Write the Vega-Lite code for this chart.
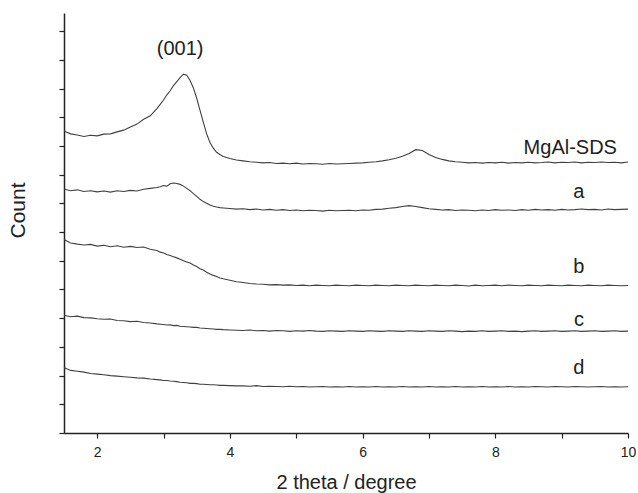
{
  "$schema": "https://vega.github.io/schema/vega-lite/v6.json",
  "width": 564,
  "height": 420,
  "autosize": "none",
  "padding": {"left": 64, "top": 13, "right": 10, "bottom": 60},
  "background": "white",
  "config": {"view": {"stroke": null}, "font": "Liberation Sans"},
  "datasets": {
    "xrd": [
      {"x":1.5,"m":10.52,"a":8.50,"b":6.74,"c":4.10,"d":2.28},
      {"x":1.6,"m":10.42,"a":8.44,"b":6.62,"c":4.05,"d":2.18},
      {"x":1.7,"m":10.38,"a":8.47,"b":6.58,"c":4.07,"d":2.15},
      {"x":1.8,"m":10.33,"a":8.41,"b":6.55,"c":4.02,"d":2.12},
      {"x":1.9,"m":10.37,"a":8.44,"b":6.57,"c":4.01,"d":2.07},
      {"x":2.0,"m":10.35,"a":8.40,"b":6.51,"c":3.98,"d":2.05},
      {"x":2.1,"m":10.41,"a":8.43,"b":6.54,"c":3.96,"d":2.03},
      {"x":2.2,"m":10.42,"a":8.39,"b":6.49,"c":3.97,"d":2.00},
      {"x":2.3,"m":10.49,"a":8.44,"b":6.52,"c":3.92,"d":1.98},
      {"x":2.4,"m":10.55,"a":8.41,"b":6.47,"c":3.91,"d":1.96},
      {"x":2.5,"m":10.66,"a":8.45,"b":6.50,"c":3.88,"d":1.94},
      {"x":2.6,"m":10.76,"a":8.43,"b":6.46,"c":3.89,"d":1.92},
      {"x":2.7,"m":10.93,"a":8.49,"b":6.48,"c":3.85,"d":1.91},
      {"x":2.8,"m":11.05,"a":8.52,"b":6.40,"c":3.83,"d":1.88},
      {"x":2.9,"m":11.30,"a":8.55,"b":6.36,"c":3.80,"d":1.86},
      {"x":2.95,"m":11.45,"a":8.58,"b":6.30,"c":3.79,"d":1.85},
      {"x":3.0,"m":11.60,"a":8.62,"b":6.27,"c":3.78,"d":1.83},
      {"x":3.05,"m":11.78,"a":8.60,"b":6.22,"c":3.76,"d":1.83},
      {"x":3.1,"m":11.92,"a":8.68,"b":6.18,"c":3.77,"d":1.81},
      {"x":3.15,"m":12.10,"a":8.71,"b":6.14,"c":3.74,"d":1.80},
      {"x":3.2,"m":12.24,"a":8.69,"b":6.10,"c":3.75,"d":1.79},
      {"x":3.25,"m":12.38,"a":8.66,"b":6.05,"c":3.72,"d":1.77},
      {"x":3.3,"m":12.50,"a":8.60,"b":6.00,"c":3.71,"d":1.76},
      {"x":3.35,"m":12.46,"a":8.52,"b":5.96,"c":3.70,"d":1.75},
      {"x":3.4,"m":12.28,"a":8.44,"b":5.92,"c":3.69,"d":1.73},
      {"x":3.45,"m":12.02,"a":8.34,"b":5.85,"c":3.68,"d":1.73},
      {"x":3.5,"m":11.66,"a":8.24,"b":5.80,"c":3.68,"d":1.72},
      {"x":3.55,"m":11.24,"a":8.14,"b":5.72,"c":3.66,"d":1.70},
      {"x":3.6,"m":10.82,"a":8.06,"b":5.68,"c":3.65,"d":1.70},
      {"x":3.65,"m":10.42,"a":8.00,"b":5.60,"c":3.64,"d":1.69},
      {"x":3.7,"m":10.12,"a":7.94,"b":5.54,"c":3.63,"d":1.68},
      {"x":3.75,"m":9.92,"a":7.90,"b":5.49,"c":3.62,"d":1.68},
      {"x":3.8,"m":9.78,"a":7.87,"b":5.45,"c":3.61,"d":1.67},
      {"x":3.85,"m":9.70,"a":7.85,"b":5.40,"c":3.61,"d":1.66},
      {"x":3.9,"m":9.63,"a":7.84,"b":5.37,"c":3.60,"d":1.66},
      {"x":4.0,"m":9.56,"a":7.82,"b":5.32,"c":3.59,"d":1.65},
      {"x":4.1,"m":9.51,"a":7.80,"b":5.27,"c":3.58,"d":1.64},
      {"x":4.2,"m":9.48,"a":7.81,"b":5.24,"c":3.57,"d":1.64},
      {"x":4.3,"m":9.45,"a":7.78,"b":5.21,"c":3.59,"d":1.63},
      {"x":4.4,"m":9.43,"a":7.80,"b":5.19,"c":3.56,"d":1.65},
      {"x":4.5,"m":9.41,"a":7.77,"b":5.18,"c":3.57,"d":1.62},
      {"x":4.6,"m":9.42,"a":7.79,"b":5.16,"c":3.55,"d":1.63},
      {"x":4.7,"m":9.39,"a":7.76,"b":5.17,"c":3.57,"d":1.62},
      {"x":4.8,"m":9.40,"a":7.78,"b":5.15,"c":3.56,"d":1.61},
      {"x":4.9,"m":9.38,"a":7.75,"b":5.16,"c":3.54,"d":1.63},
      {"x":5.0,"m":9.40,"a":7.77,"b":5.14,"c":3.56,"d":1.61},
      {"x":5.1,"m":9.37,"a":7.74,"b":5.15,"c":3.55,"d":1.62},
      {"x":5.2,"m":9.39,"a":7.76,"b":5.13,"c":3.57,"d":1.60},
      {"x":5.3,"m":9.38,"a":7.75,"b":5.15,"c":3.55,"d":1.61},
      {"x":5.4,"m":9.36,"a":7.73,"b":5.14,"c":3.54,"d":1.62},
      {"x":5.5,"m":9.39,"a":7.76,"b":5.13,"c":3.56,"d":1.60},
      {"x":5.6,"m":9.37,"a":7.74,"b":5.15,"c":3.55,"d":1.61},
      {"x":5.7,"m":9.38,"a":7.75,"b":5.14,"c":3.54,"d":1.60},
      {"x":5.8,"m":9.39,"a":7.76,"b":5.13,"c":3.56,"d":1.62},
      {"x":5.9,"m":9.40,"a":7.74,"b":5.15,"c":3.55,"d":1.60},
      {"x":6.0,"m":9.41,"a":7.77,"b":5.14,"c":3.54,"d":1.61},
      {"x":6.1,"m":9.43,"a":7.76,"b":5.13,"c":3.56,"d":1.60},
      {"x":6.2,"m":9.45,"a":7.79,"b":5.15,"c":3.55,"d":1.62},
      {"x":6.3,"m":9.48,"a":7.80,"b":5.14,"c":3.54,"d":1.60},
      {"x":6.4,"m":9.52,"a":7.83,"b":5.13,"c":3.56,"d":1.61},
      {"x":6.5,"m":9.57,"a":7.85,"b":5.15,"c":3.55,"d":1.60},
      {"x":6.6,"m":9.64,"a":7.89,"b":5.14,"c":3.54,"d":1.62},
      {"x":6.7,"m":9.74,"a":7.92,"b":5.13,"c":3.56,"d":1.60},
      {"x":6.8,"m":9.87,"a":7.89,"b":5.15,"c":3.55,"d":1.61},
      {"x":6.9,"m":9.84,"a":7.85,"b":5.14,"c":3.54,"d":1.60},
      {"x":7.0,"m":9.70,"a":7.81,"b":5.13,"c":3.56,"d":1.62},
      {"x":7.1,"m":9.60,"a":7.79,"b":5.15,"c":3.55,"d":1.60},
      {"x":7.2,"m":9.53,"a":7.77,"b":5.14,"c":3.54,"d":1.61},
      {"x":7.3,"m":9.48,"a":7.78,"b":5.13,"c":3.56,"d":1.60},
      {"x":7.4,"m":9.45,"a":7.75,"b":5.15,"c":3.55,"d":1.62},
      {"x":7.5,"m":9.43,"a":7.77,"b":5.14,"c":3.53,"d":1.60},
      {"x":7.6,"m":9.41,"a":7.76,"b":5.12,"c":3.55,"d":1.61},
      {"x":7.7,"m":9.42,"a":7.74,"b":5.15,"c":3.54,"d":1.60},
      {"x":7.8,"m":9.40,"a":7.77,"b":5.13,"c":3.56,"d":1.62},
      {"x":7.9,"m":9.42,"a":7.75,"b":5.14,"c":3.54,"d":1.60},
      {"x":8.0,"m":9.41,"a":7.78,"b":5.15,"c":3.55,"d":1.61},
      {"x":8.1,"m":9.43,"a":7.76,"b":5.13,"c":3.56,"d":1.60},
      {"x":8.2,"m":9.40,"a":7.77,"b":5.15,"c":3.54,"d":1.62},
      {"x":8.3,"m":9.42,"a":7.75,"b":5.14,"c":3.55,"d":1.60},
      {"x":8.4,"m":9.41,"a":7.78,"b":5.13,"c":3.53,"d":1.61},
      {"x":8.5,"m":9.43,"a":7.76,"b":5.15,"c":3.55,"d":1.60},
      {"x":8.6,"m":9.41,"a":7.79,"b":5.14,"c":3.56,"d":1.62},
      {"x":8.7,"m":9.42,"a":7.77,"b":5.13,"c":3.54,"d":1.61},
      {"x":8.8,"m":9.44,"a":7.78,"b":5.15,"c":3.55,"d":1.60},
      {"x":8.9,"m":9.41,"a":7.76,"b":5.14,"c":3.56,"d":1.62},
      {"x":9.0,"m":9.43,"a":7.79,"b":5.13,"c":3.54,"d":1.61},
      {"x":9.1,"m":9.42,"a":7.77,"b":5.15,"c":3.55,"d":1.60},
      {"x":9.2,"m":9.44,"a":7.78,"b":5.14,"c":3.56,"d":1.62},
      {"x":9.3,"m":9.41,"a":7.80,"b":5.13,"c":3.54,"d":1.61},
      {"x":9.4,"m":9.43,"a":7.78,"b":5.15,"c":3.55,"d":1.60},
      {"x":9.5,"m":9.42,"a":7.79,"b":5.14,"c":3.56,"d":1.61},
      {"x":9.6,"m":9.44,"a":7.77,"b":5.13,"c":3.54,"d":1.62},
      {"x":9.7,"m":9.42,"a":7.80,"b":5.15,"c":3.55,"d":1.60},
      {"x":9.8,"m":9.43,"a":7.78,"b":5.14,"c":3.56,"d":1.61},
      {"x":9.9,"m":9.41,"a":7.79,"b":5.13,"c":3.54,"d":1.60},
      {"x":10.0,"m":9.44,"a":7.80,"b":5.14,"c":3.55,"d":1.61}
    ],
    "labels": [
      {"x":9.13,"y":9.94,"t":"MgAl-SDS"},
      {"x":9.26,"y":8.38,"t":"a"},
      {"x":9.26,"y":5.77,"t":"b"},
      {"x":9.26,"y":3.93,"t":"c"},
      {"x":9.26,"y":2.26,"t":"d"},
      {"x":3.25,"y":13.38,"t":"(001)"}
    ]
  },
  "encoding": {
    "x": {
      "field": "x", "type": "quantitative",
      "scale": {"domain": [1.5, 10], "nice": false, "zero": false},
      "axis": {
        "title": "2 theta / degree",
        "values": [2,3,4,5,6,7,8,9,10],
        "format": "d",
        "labelExpr": "datum.value % 2 == 0 ? datum.label : ''",
        "labelOverlap": false,
        "labelBound": false,
        "labelFlush": false,
        "grid": false,
        "domainColor": "#222", "domainWidth": 1.5,
        "tickColor": "#222", "tickWidth": 1.2, "tickSize": 5,
        "labelColor": "#222", "labelFontSize": 14, "labelPadding": 7,
        "labelFont": "Liberation Sans",
        "titleColor": "#222", "titleFontSize": 20, "titleFontWeight": "normal",
        "titleFont": "Liberation Sans", "titlePadding": 13
      }
    },
    "y": {
      "field": "y", "type": "quantitative",
      "scale": {"domain": [0, 14.63], "nice": false, "zero": false},
      "axis": {
        "title": "Count",
        "values": [0,1,2,3,4,5,6,7,8,9,10,11,12,13,14],
        "labelExpr": "''",
        "labelOverlap": false,
        "labelPadding": 0,
        "grid": false,
        "domainColor": "#222", "domainWidth": 1.5,
        "tickColor": "#222", "tickWidth": 1.2, "tickSize": 5,
        "titleColor": "#222", "titleFontSize": 21, "titleFontWeight": "normal",
        "titleFont": "Liberation Sans", "titlePadding": 30, "titleY": 197
      }
    }
  },
  "layer": [
    {
      "data": {"name": "xrd"},
      "transform": [{"fold": ["m","a","b","c","d"], "as": ["series","y"]}],
      "mark": {"type": "line", "strokeWidth": 1.1, "color": "#404040", "interpolate": "linear"},
      "encoding": {
        "detail": {"field": "series"}
      }
    },
    {
      "data": {"name": "labels"},
      "mark": {"type": "text", "fontSize": 20, "color": "#222", "font": "Liberation Sans", "align": "center", "baseline": "middle"},
      "encoding": {
        "text": {"field": "t"}
      }
    }
  ]
}
